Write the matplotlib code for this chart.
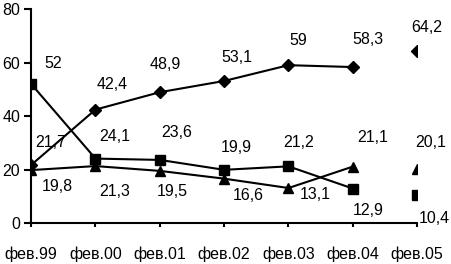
import matplotlib
matplotlib.use('Agg')
import matplotlib.pyplot as plt

plt.rcParams['font.family'] = ['Liberation Sans Narrow', 'Liberation Sans', 'DejaVu Sans']

months = ["фев.99", "фев.00", "фев.01", "фев.02", "фев.03", "фев.04", "фев.05"]
diamond_vals = [21.7, 42.4, 48.9, 53.1, 59, 58.3, 64.2]
square_vals = [52, 24.1, 23.6, 19.9, 21.2, 12.9, 10.4]
triangle_vals = [19.8, 21.3, 19.5, 16.6, 13.1, 21.1, 20.1]

# label offsets in points (style only)
diamond_off = [(14, 16), (12, 18), (4, 20), (9, 17), (7, 18), (11, 20), (7, 17)]
square_off = [(16, 15), (14, 16), (12, 20), (9, 16), (7, 17), (11, -16), (12, -17)]
triangle_off = [(19, -12), (14, -18), (9, -15), (17, -12), (19, -5), (14, 21), (10, 19)]

fig = plt.figure(figsize=(4.51, 2.64), dpi=100)
ax = fig.add_axes([0.069, 0.155, 0.856, 0.811])

x = list(range(len(months)))
n_line = 6  # last point is not connected

for vals, mk, ms, offs in [(diamond_vals, 'D', 6, diamond_off),
                           (square_vals, 's', 7, square_off),
                           (triangle_vals, '^', 7.5, triangle_off)]:
    ax.plot(x[:n_line], vals[:n_line], color='black', lw=1.5,
            marker=mk, ms=ms, mfc='black', mec='black')
    ax.plot(x[n_line:], vals[n_line:], ls='none', marker=mk, ms=ms,
            mfc='black', mec='black')
    for xi, v, o in zip(x, vals, offs):
        txt = ('%g' % v).replace('.', ',')
        ax.annotate(txt, (xi, v), xytext=o, textcoords='offset points',
                    ha='center', va='center', fontsize=11.5)

ax.set_xlim(0, 6)
ax.set_ylim(0, 80)
ax.set_yticks([0, 20, 40, 60, 80])
ax.set_xticks(x)
ax.set_xticklabels(months)
for s in ['top', 'right']:
    ax.spines[s].set_visible(False)
for s in ['left', 'bottom']:
    ax.spines[s].set_linewidth(1.5)
ax.tick_params(axis='y', direction='out', length=5, width=1.5, labelsize=11.5, pad=3)
ax.tick_params(axis='x', direction='out', length=3, width=1.5, labelsize=11.5, pad=14)

fig.savefig('out.png', dpi=100)
